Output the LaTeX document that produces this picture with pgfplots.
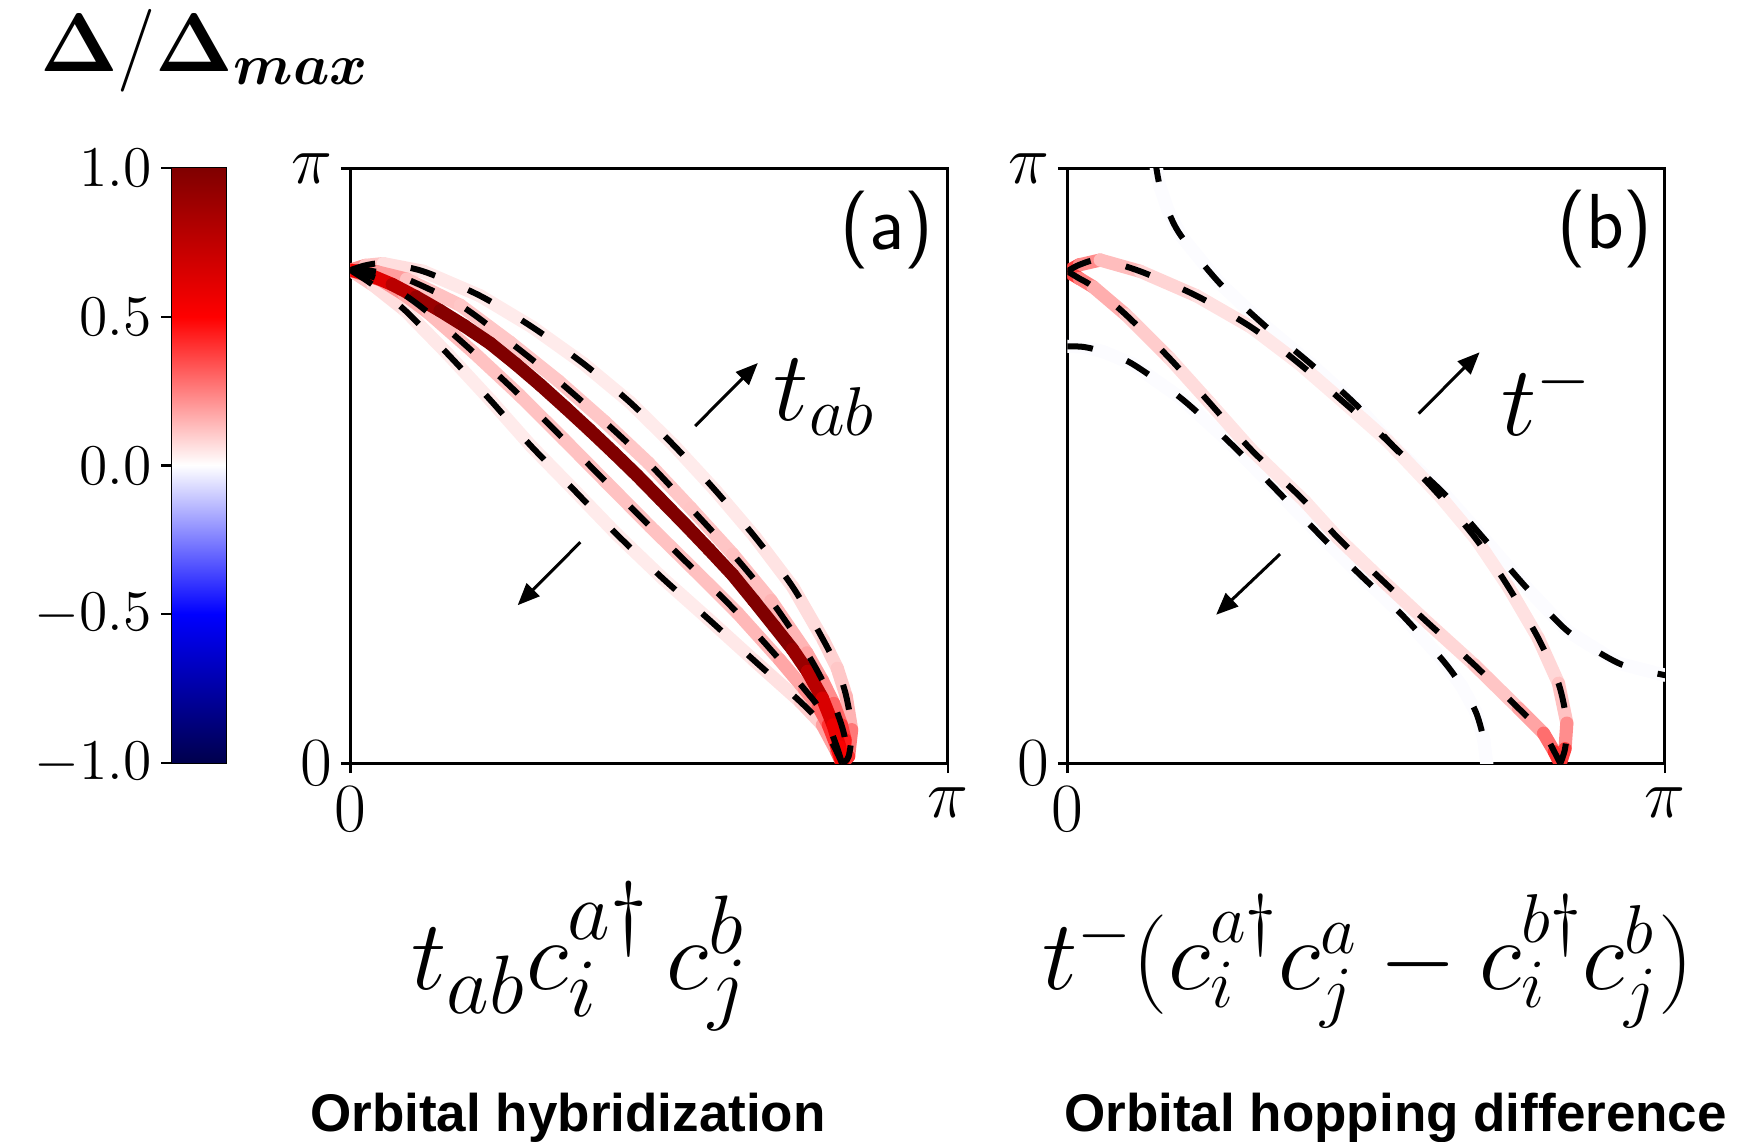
\documentclass[border=0pt]{standalone}
\usepackage{pgfplots}
\pgfplotsset{compat=1.18}
\usepackage{pgfplotstable}
\usepackage{bm}
\usepackage{fontspec}
\newfontfamily\boldsans{Liberation Sans}
\usetikzlibrary{arrows.meta}

\pgfplotsset{
  colormap={seismic}{rgb=(0,0,0.3) rgb=(0,0,1) rgb=(1,1,1) rgb=(1,0,0) rgb=(0.5,0,0)},
}

% ---------- panel (a) ----------
\pgfplotstableread{
x y c
0.000 0.829 0.30
0.025 0.837 0.15
0.055 0.840 0.08
0.122 0.827 0.05
0.217 0.786 0.04
0.305 0.733 0.04
0.390 0.672 0.04
0.468 0.607 0.04
0.541 0.535 0.04
0.610 0.460 0.04
0.677 0.381 0.05
0.741 0.296 0.06
0.792 0.207 0.08
0.815 0.160 0.10
0.830 0.113 0.12
0.839 0.057 0.18
0.834 0.012 0.35
0.823 0.000 0.45
}\aOU
\pgfplotstableread{
x y c
0.000 0.829 0.45
0.020 0.829 0.35
0.045 0.826 0.25
0.094 0.814 0.13
0.184 0.770 0.11
0.267 0.708 0.11
0.348 0.643 0.11
0.426 0.574 0.11
0.499 0.505 0.11
0.570 0.429 0.11
0.640 0.352 0.12
0.704 0.274 0.13
0.764 0.186 0.16
0.790 0.140 0.20
0.809 0.101 0.25
0.822 0.065 0.35
0.828 0.040 0.42
0.827 0.015 0.48
0.823 0.000 0.50
}\aIU
\pgfplotstableread{
x y c
0.000 0.829 0.50
0.030 0.822 0.55
0.070 0.805 0.70
0.110 0.784 0.85
0.150 0.761 0.95
0.190 0.736 1.00
0.234 0.706 1.00
0.276 0.672 1.00
0.318 0.636 1.00
0.360 0.598 1.00
0.400 0.561 1.00
0.440 0.523 1.00
0.480 0.484 1.00
0.520 0.443 1.00
0.560 0.402 1.00
0.600 0.360 1.00
0.640 0.317 1.00
0.675 0.274 1.00
0.710 0.230 1.00
0.740 0.192 0.95
0.765 0.155 0.85
0.790 0.110 0.70
0.808 0.065 0.60
0.819 0.028 0.55
0.823 0.000 0.50
}\aC
\pgfplotstableread{
x y c
0.000 0.829 0.40
0.050 0.813 0.25
0.090 0.788 0.18
0.131 0.757 0.14
0.206 0.691 0.12
0.283 0.619 0.12
0.357 0.545 0.12
0.429 0.472 0.12
0.502 0.398 0.12
0.576 0.325 0.12
0.648 0.253 0.13
0.718 0.175 0.15
0.760 0.125 0.20
0.783 0.096 0.25
0.800 0.065 0.35
0.814 0.029 0.45
0.823 0.000 0.50
}\aIL
\pgfplotstableread{
x y c
0.000 0.829 0.15
0.038 0.804 0.08
0.092 0.761 0.05
0.164 0.687 0.04
0.234 0.611 0.04
0.302 0.534 0.04
0.375 0.459 0.04
0.446 0.385 0.04
0.523 0.311 0.04
0.598 0.244 0.04
0.676 0.173 0.05
0.753 0.104 0.07
0.790 0.065 0.12
0.814 0.020 0.25
0.823 0.000 0.35
}\aOL

% ---------- panel (b) ----------
\pgfplotstableread{
x y c
0.000 0.827 0.45
0.020 0.838 0.30
0.055 0.846 0.16
0.122 0.827 0.10
0.216 0.786 0.07
0.308 0.733 0.05
0.388 0.672 0.045
0.466 0.604 0.04
0.537 0.541 0.04
0.624 0.449 0.04
0.685 0.376 0.045
0.738 0.297 0.05
0.788 0.211 0.07
0.822 0.135 0.09
0.836 0.068 0.15
0.833 0.025 0.30
0.825 0.000 0.45
}\bA
\pgfplotstableread{
x y c
0.000 0.827 0.45
0.020 0.815 0.30
0.043 0.801 0.20
0.098 0.754 0.12
0.171 0.681 0.08
0.240 0.604 0.06
0.308 0.527 0.05
0.398 0.440 0.05
0.453 0.379 0.05
0.529 0.306 0.06
0.604 0.236 0.07
0.681 0.166 0.09
0.755 0.093 0.14
0.797 0.051 0.22
0.815 0.020 0.35
0.825 0.000 0.45
}\bB
\pgfplotstableread{
x y c
0.147 1.020 -0.006
0.149 1.000 -0.006
0.155 0.969 -0.006
0.168 0.930 -0.006
0.190 0.887 -0.006
0.254 0.808 -0.006
0.329 0.737 -0.006
0.409 0.670 -0.006
0.485 0.601 -0.006
0.545 0.534 -0.006
0.630 0.454 -0.006
0.699 0.376 -0.006
0.768 0.296 -0.006
0.838 0.222 -0.006
0.924 0.168 -0.006
0.998 0.149 -0.006
1.020 0.147 -0.006
}\bC
\pgfplotstableread{
x y c
0.000 0.701 -0.006
0.027 0.700 -0.006
0.060 0.692 -0.006
0.108 0.672 -0.006
0.190 0.614 -0.006
0.268 0.543 -0.006
0.340 0.470 -0.006
0.410 0.397 -0.006
0.484 0.323 -0.006
0.558 0.252 -0.006
0.628 0.174 -0.006
0.660 0.130 -0.006
0.684 0.086 -0.006
0.697 0.040 -0.006
0.702 0.000 -0.006
}\bD

\pgfplotsset{
  panel/.style={
    scale only axis, width=149.35pt, height=148.8pt,
    xmin=0, xmax=1, ymin=0, ymax=1,
    xtick={0,1}, xticklabels={$0$,$\pi$},
    ytick={0,1}, yticklabels={$0$,$\pi$},
    tick pos=left, tick align=outside, major tick length=2.4pt,
    tick style={black, line width=0.6pt},
    axis line style={line width=0.7pt},
    tick label style={font=\fontsize{16}{16}\selectfont},
    yticklabel style={xshift=1.5pt},
    colormap name=seismic, point meta min=-1, point meta max=1,
  },
  band/.style={mesh, point meta=explicit, shader=flat, line width=3.3pt, line cap=round, line join=round},
  dsh/.style={black, line width=1.5pt, dash pattern=on 6.4pt off 9.0pt, smooth, tension=0.5},
}

\begin{document}
\begin{tikzpicture}
\useasboundingbox (0,0) rectangle (434.5pt,285.5pt);

% colour bar
\begin{axis}[
  at={(43pt,94.75pt)}, anchor=south west,
  scale only axis, width=13.5pt, height=148.75pt,
  xmin=0, xmax=1, ymin=-1, ymax=1,
  xtick=\empty, ytick={-1,-0.5,0,0.5,1},
  yticklabels={$-1.0$,$-0.5$,$0.0$,$0.5$,$1.0$},
  ytick pos=left, tick align=outside, major tick length=2.75pt,
  tick style={black, line width=0.6pt},
  axis line style={line width=0.7pt},
  tick label style={font=\fontsize{15.8}{15.8}\selectfont},
  yticklabel style={xshift=1.2pt},
  colormap name=seismic, point meta min=-1, point meta max=1,
]
\addplot[patch, patch type=rectangle, shader=interp, point meta=explicit] coordinates {
(0,-1) [-1] (1,-1) [-1] (1,-0.5) [-0.5] (0,-0.5) [-0.5]
(0,-0.5) [-0.5] (1,-0.5) [-0.5] (1,0) [0] (0,0) [0]
(0,0) [0] (1,0) [0] (1,0.5) [0.5] (0,0.5) [0.5]
(0,0.5) [0.5] (1,0.5) [0.5] (1,1) [1] (0,1) [1]
};
\end{axis}

% panel (a)
\begin{axis}[panel, at={(87.6pt,94.6pt)}, anchor=south west]
\addplot[band] table[x=x,y=y,meta=c]{\aOL};
\addplot[band] table[x=x,y=y,meta=c]{\aOU};
\addplot[band] table[x=x,y=y,meta=c]{\aIL};
\addplot[band] table[x=x,y=y,meta=c]{\aIU};
\addplot[band] table[x=x,y=y,meta=c]{\aC};
\addplot[dsh] table[x=x,y=y]{\aOL};
\addplot[dsh] table[x=x,y=y]{\aOU};
\addplot[dsh] table[x=x,y=y]{\aIL};
\addplot[dsh] table[x=x,y=y]{\aIU};
\draw[line width=0.75pt, -{Triangle[length=5.5pt,width=4.5pt]}] (axis cs:0.577,0.567) -- (axis cs:0.682,0.673);
\draw[line width=0.75pt, -{Triangle[length=5.5pt,width=4.5pt]}] (axis cs:0.385,0.372) -- (axis cs:0.280,0.266);
\node[font=\fontsize{24}{24}\selectfont] at (axis cs:0.794,0.616) {$t_{ab}$};
\node[font=\sffamily\fontsize{19.5}{19.5}\selectfont] at (axis cs:0.898,0.897) {(a)};
\end{axis}

% panel (b)
\begin{axis}[panel, at={(266.85pt,94.6pt)}, anchor=south west]
\addplot[band] table[x=x,y=y,meta=c]{\bC};
\addplot[band] table[x=x,y=y,meta=c]{\bD};
\addplot[band] table[x=x,y=y,meta=c]{\bA};
\addplot[band] table[x=x,y=y,meta=c]{\bB};
\addplot[dsh] table[x=x,y=y]{\bC};
\addplot[dsh] table[x=x,y=y]{\bD};
\addplot[dsh] table[x=x,y=y]{\bA};
\addplot[dsh] table[x=x,y=y]{\bB};
\draw[line width=0.75pt, -{Triangle[length=5.5pt,width=4.5pt]}] (axis cs:0.588,0.588) -- (axis cs:0.690,0.691);
\draw[line width=0.75pt, -{Triangle[length=5.5pt,width=4.5pt]}] (axis cs:0.356,0.352) -- (axis cs:0.249,0.250);
\node[font=\fontsize{24}{24}\selectfont] at (axis cs:0.803,0.616) {$t^{-}$};
\node[font=\sffamily\fontsize{19.5}{19.5}\selectfont] at (axis cs:0.900,0.898) {(b)};
\end{axis}

% texts
\node[anchor=base west, inner sep=0pt, font=\fontsize{22}{25}\selectfont] at (9.8pt,267.5pt) {$\bm{\Delta}/\bm{\Delta_{max}}$};
\node[anchor=base, inner sep=0pt, font=\fontsize{27.5}{30}\selectfont] at (145pt,38pt) {$t_{ab}c_i^{a\dagger}\,c_j^b$};
\node[anchor=base, inner sep=0pt, font=\fontsize{26}{30}\selectfont] at (342pt,38pt) {$t^{-}(c_i^{a\dagger}c_j^a-c_i^{b\dagger}c_j^b)$};
\node[anchor=base, inner sep=0pt, font=\boldsans\bfseries\fontsize{13.25}{15}\selectfont] at (142pt,2.6pt) {Orbital hybridization};
\node[anchor=base, inner sep=0pt, font=\boldsans\bfseries\fontsize{13.25}{15}\selectfont] at (348.9pt,2.6pt) {Orbital hopping difference};
\end{tikzpicture}
\end{document}
